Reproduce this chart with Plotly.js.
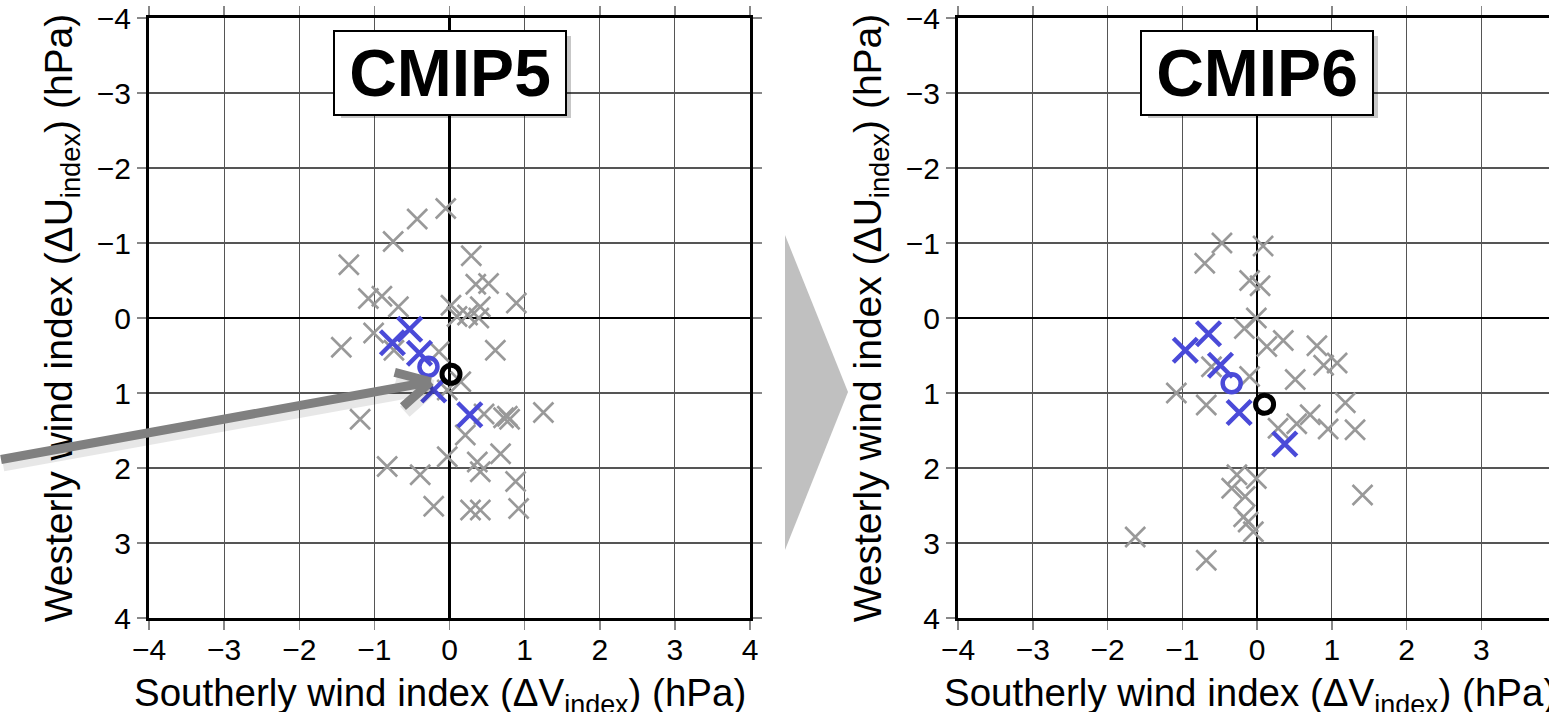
<!DOCTYPE html>
<html>
<head>
<meta charset="utf-8">
<script src="https://cdn.plot.ly/plotly-3.0.1.min.js"></script>
<style>
html, body { margin: 0; padding: 0; background: #fff; overflow: hidden; }
#chart { width: 1549px; height: 712px; }
</style>
</head>
<body>
<div id="chart"></div>
<script>
// ---------- data (hPa) ----------
const tickValues = [-4, -3, -2, -1, 0, 1, 2, 3, 4];
const panelTitles = ["CMIP5", "CMIP6"];

// CMIP5 individual models (grey crosses)
const cmip5ModelsV = [-0.05, -0.43, -0.75, -1.34, 0.29, 0.35, 0.52, 0.89, -1.08, -0.90, -0.68, 0.02, 0.41, 0.10, 0.24, 0.39, -1.44, -1.01, -0.74, 0.61, -0.14, 0.15, -0.03, -1.19, 0.46, 0.72, 0.77, 0.80, 1.25, 0.21, 0.68, -0.03, 0.37, 0.41, -0.83, -0.39, 0.88, -0.21, 0.28, 0.41, 0.92];
const cmip5ModelsU = [-1.46, -1.32, -1.02, -0.71, -0.83, -0.45, -0.46, -0.20, -0.26, -0.29, -0.15, -0.17, -0.15, -0.02, -0.04, 0.00, 0.39, 0.20, 0.43, 0.43, 0.45, 0.85, 0.96, 1.35, 1.28, 1.33, 1.31, 1.35, 1.26, 1.56, 1.81, 1.85, 1.92, 2.05, 1.98, 2.09, 2.18, 2.51, 2.56, 2.56, 2.54];
// CMIP5 selected models (blue crosses)
const cmip5SelV = [-0.53, -0.76, -0.40, -0.21, 0.27];
const cmip5SelU = [0.15, 0.33, 0.47, 0.96, 1.29];
// CMIP5 selected-model mean (blue circle) and multi-model mean (black circle)
const cmip5SelMeanV = [-0.28];
const cmip5SelMeanU = [0.65];
const cmip5MmeV = [0.02];
const cmip5MmeU = [0.75];

// CMIP6 individual models (grey crosses)
const cmip6ModelsV = [-0.47, 0.08, -0.70, -0.10, 0.04, -0.01, -0.17, 0.35, 0.13, 0.80, 0.89, 1.07, -0.61, 0.51, -0.10, -1.08, -0.68, 1.18, 0.71, 0.53, 0.28, 0.95, 1.31, -0.27, -0.01, -0.34, -0.16, 1.41, -0.18, -0.12, -0.05, -0.68, -1.63];
const cmip6ModelsU = [-1.00, -0.96, -0.73, -0.50, -0.43, 0.00, 0.14, 0.30, 0.38, 0.37, 0.63, 0.60, 0.65, 0.82, 0.78, 1.00, 1.16, 1.13, 1.29, 1.41, 1.47, 1.48, 1.49, 2.09, 2.14, 2.27, 2.38, 2.36, 2.65, 2.72, 2.85, 3.23, 2.92];
// CMIP6 selected models (blue crosses)
const cmip6SelV = [-0.65, -0.96, -0.49, -0.24, 0.37];
const cmip6SelU = [0.21, 0.43, 0.63, 1.26, 1.68];
const cmip6SelMeanV = [-0.34];
const cmip6SelMeanU = [0.87];
const cmip6MmeV = [0.10];
const cmip6MmeU = [1.15];

// arrow in the left panel (data units): tail, tip, and the two barb ends
const arrowTail = [-5.99, 1.89];
const arrowTip = [-0.25, 0.85];
const arrowBarbA = [-0.75, 0.72];
const arrowBarbB = [-0.64, 1.20];

// ---------- styling ----------
const FONT = "Liberation Sans, Arial, Helvetica, sans-serif";
const GREY = "#999999";
const BLUE = "#4a4ad8";

function traceSet(xa, ya, mV, mU, sV, sU, smV, smU, mmV, mmU) {
  return [
    { type: "scatter", mode: "markers", x: mV, y: mU, xaxis: xa, yaxis: ya,
      marker: { symbol: "x-thin", size: 20, color: GREY, line: { width: 2.6, color: GREY } }, hoverinfo: "x+y" },
    { type: "scatter", mode: "markers", x: sV, y: sU, xaxis: xa, yaxis: ya,
      marker: { symbol: "x-thin", size: 24, color: BLUE, line: { width: 4.5, color: BLUE } }, hoverinfo: "x+y" },
    { type: "scatter", mode: "markers", x: smV, y: smU, xaxis: xa, yaxis: ya,
      marker: { symbol: "circle-open", size: 18, color: BLUE, line: { width: 4.5, color: BLUE } }, hoverinfo: "x+y" },
    { type: "scatter", mode: "markers", x: mmV, y: mmU, xaxis: xa, yaxis: ya,
      marker: { symbol: "circle-open", size: 18, color: "#000", line: { width: 5, color: "#000" } }, hoverinfo: "x+y" }
  ];
}

const data = [].concat(
  traceSet("x", "y", cmip5ModelsV, cmip5ModelsU, cmip5SelV, cmip5SelU, cmip5SelMeanV, cmip5SelMeanU, cmip5MmeV, cmip5MmeU),
  traceSet("x2", "y2", cmip6ModelsV, cmip6ModelsU, cmip6SelV, cmip6SelU, cmip6SelMeanV, cmip6SelMeanU, cmip6MmeV, cmip6MmeU)
);

const xTitle = "Southerly wind index (ΔV<sub>index</sub>) (hPa)";
const yTitle = "Westerly wind index (ΔU<sub>index</sub>) (hPa)";

function axisBase() {
  return {
    tickvals: tickValues,
    ticks: "outside", ticklen: 9, tickwidth: 1.5, tickcolor: "#888",
    showline: true, linecolor: "#000", linewidth: 3,
    showgrid: true, gridcolor: "#555", gridwidth: 1.2,
    zeroline: true, zerolinecolor: "#000", zerolinewidth: 2.6,
    tickfont: { family: FONT, size: 30, color: "#000" },
    fixedrange: true
  };
}

const W = 1549, H = 712, ML = 149, MT = 18, MB = 94;
const PW = W - ML, PH = H - MT - MB;

const layout = {
  width: W, height: H,
  margin: { l: ML, r: 0, t: MT, b: MB, pad: 0 },
  paper_bgcolor: "#fff", plot_bgcolor: "#fff",
  showlegend: false,
  font: { family: FONT, color: "#000" },
  xaxis: Object.assign(axisBase(), { domain: [0, 601 / PW], range: [-4, 4], anchor: "y", mirror: "ticks", ticklabelstandoff: -6 }),
  yaxis: Object.assign(axisBase(), { domain: [0, 1], range: [4, -4], anchor: "x", mirror: "ticks", automargin: true,
    title: { text: yTitle, standoff: 13, font: { family: FONT, size: 39, color: "#000" } } }),
  xaxis2: Object.assign(axisBase(), { domain: [809 / PW, 1], range: [-4, (W - 1257) / 74.8], anchor: "y2", mirror: "ticks", ticklabelstandoff: -6 }),
  yaxis2: Object.assign(axisBase(), { domain: [0, 1], range: [4, -4], anchor: "x2", mirror: false, automargin: true,
    title: { text: yTitle, standoff: 13, font: { family: FONT, size: 39, color: "#000" } } }),
  shapes: [
    { type: "path", xref: "paper", yref: "paper",
      path: "M " + ((785 - ML) / PW) + " " + (1 - (235 - MT) / PH) +
            " L " + ((848 - ML) / PW) + " " + (1 - (392 - MT) / PH) +
            " L " + ((785 - ML) / PW) + " " + (1 - (550 - MT) / PH) + " Z",
      fillcolor: "#c0c0c0", line: { width: 0 } }
  ],
  annotations: []
};

// x-axis titles (placed as annotations under each panel)
[["x", -0.12], ["x2", -0.09]].forEach(function (p) {
  layout.annotations.push({ xref: p[0], yref: "paper", x: p[1], y: 0, yanchor: "middle", yshift: -77,
    text: xTitle, showarrow: false, font: { family: FONT, size: 38.5, color: "#000" } });
});

// title boxes with drop shadows
[["x", "y", panelTitles[0]], ["x2", "y2", panelTitles[1]]].forEach(function (p) {
  layout.annotations.push({ xref: p[0], yref: p[1], x: 0.03, y: -3.27, text: " ", showarrow: false,
    width: 228, height: 80, bgcolor: "rgba(0,0,0,0.22)", borderpad: 1, borderwidth: 0, xshift: 4, yshift: -4 });
  layout.annotations.push({ xref: p[0], yref: p[1], x: 0.0, y: -3.27, text: "<b>" + p[2] + "</b>", showarrow: false,
    width: 228, height: 80, bgcolor: "#fff", bordercolor: "#000", borderwidth: 2, borderpad: 1,
    font: { family: FONT, size: 66, color: "#000" } });
});

// arrow (shadow + shaft + barbs)
function arrowSeg(from, to, color, w, xs, ys) {
  return { xref: "x", yref: "y", axref: "x", ayref: "y", x: to[0], y: to[1], ax: from[0], ay: from[1],
    text: "", showarrow: true, arrowhead: 0, arrowwidth: w, arrowcolor: color, standoff: 0, startstandoff: 0,
    xshift: xs, yshift: ys };
}
[[arrowTail, arrowTip], [arrowBarbA, arrowTip], [arrowBarbB, arrowTip]].forEach(function (s) {
  layout.annotations.push(arrowSeg(s[0], s[1], "rgba(0,0,0,0.09)", 14, 2, -5));
});
[[arrowTail, arrowTip], [arrowBarbA, arrowTip], [arrowBarbB, arrowTip]].forEach(function (s) {
  layout.annotations.push(arrowSeg(s[0], s[1], "#808080", 9, 0, 0));
});

Plotly.newPlot("chart", data, layout, { displayModeBar: false, staticPlot: true });
</script>
</body>
</html>
